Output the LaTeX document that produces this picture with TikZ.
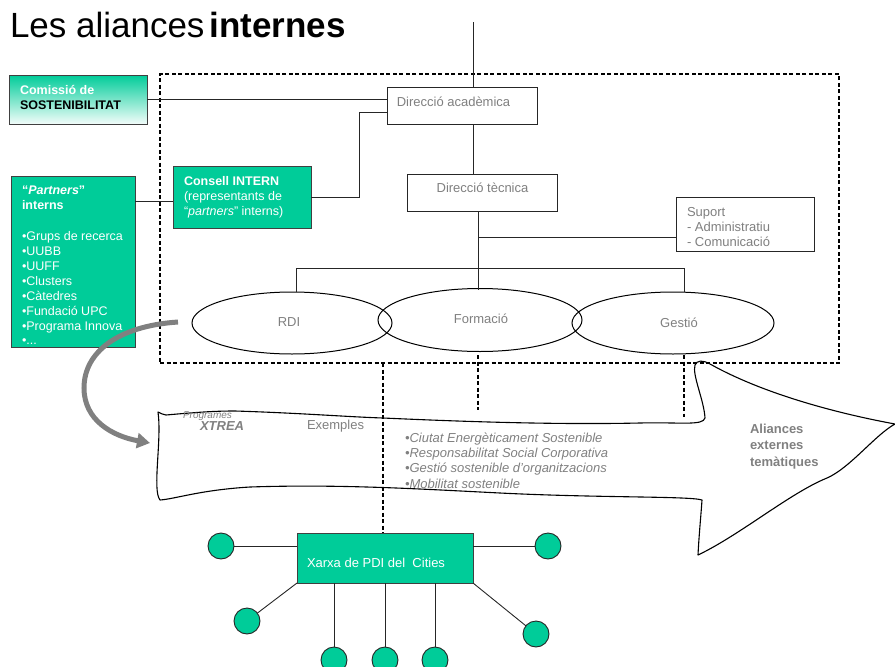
\documentclass[tikz,border=0pt]{standalone}
\usepackage{fontspec}
\setmainfont{Liberation Sans}
\usetikzlibrary{arrows.meta,shapes.geometric}
\definecolor{grn}{RGB}{0,204,153}
\definecolor{txtgray}{RGB}{128,128,128}
\definecolor{arrgray}{RGB}{128,128,128}
\begin{document}
\begin{tikzpicture}[x=1pt,y=-1pt,
  every node/.style={inner sep=0pt, outer sep=0pt},
  plainbox/.style={draw=black!85, line width=0.9pt, fill=white},
  greenbox/.style={draw=black!75, line width=0.9pt, fill=grn},
  conn/.style={draw=black!85, line width=0.9pt},
  dashln/.style={draw=black, line width=1.7pt, dash pattern=on 4pt off 2.5pt},
  oval/.style={ellipse, draw=black, line width=1pt},
  dot/.style={circle, draw=black!85, line width=0.9pt, fill=grn, minimum size=26pt},
  t13/.style={font=\fontsize{13}{15}\selectfont},
  t12/.style={font=\fontsize{12.5}{15}\selectfont},
  gtxt/.style={text=txtgray, t13},
  wtxt/.style={text=white, t12},
  lb/.style={anchor=base west},
  cb/.style={anchor=base},
]
\useasboundingbox (0,0) rectangle (895,667);

% title
\node[lb, font=\fontsize{35}{38}\selectfont] (title) at (10,37) {Les aliances\hskip5pt\textbf{internes}};

% dashed frame
\node[dashln, minimum width=679pt, minimum height=289pt] (frame) at (499.5,218.5) {};

% boxes
\node[draw=black!75, line width=0.9pt, top color=grn, bottom color=grn!5, minimum width=138pt, minimum height=49pt] (comm) at (78,99.5) {};
\node[greenbox, minimum width=124pt, minimum height=171pt] (partners) at (73,261.5) {};
\node[greenbox, minimum width=138pt, minimum height=62pt] (consell) at (242,197) {};
\node[plainbox, minimum width=150pt, minimum height=37pt] (dacad) at (462,105.5) {};
\node[plainbox, minimum width=150pt, minimum height=37pt] (dtec) at (482,192.5) {};
\node[plainbox, minimum width=138pt, minimum height=54pt] (suport) at (745,224) {};

% ellipses
\node[oval, minimum width=200pt, minimum height=62pt] (rdi) at (292,323) {};
\node[oval, minimum width=204pt, minimum height=63pt] (form) at (480,320) {};
\node[oval, minimum width=202pt, minimum height=62pt] (gest) at (673,323) {};

% coordinates
\coordinate (top) at (473,22);
\coordinate (fx) at (478,268);
\coordinate (bl) at (296,268);
\coordinate (br) at (684,268);
\coordinate (d1) at (383,363);
\coordinate (d2a) at (478,355);
\coordinate (d2b) at (478,410);
\coordinate (d3a) at (684,355);
\coordinate (d3b) at (684,417);

% connectors
\draw[conn] (top) -- (top |- dacad.north);
\draw[conn] (comm.east) -- (comm.east -| dacad.west);
\draw[conn] ([yshift=-6.5pt]dacad.west) -- ++(-28,0) |- (consell.east);
\draw[conn] ([yshift=-4pt]consell.west) -- ([yshift=-4pt]consell.west -| partners.east);
\draw[conn] (top |- dacad.south) -- (top |- dtec.north);
\draw[conn] (dtec.south -| fx) -- ([yshift=-1pt]form.north -| fx);
\draw[conn] ([yshift=-13pt]suport.west) -- ([yshift=-13pt]suport.west -| fx);
\draw[conn] (rdi.north -| bl) -- (bl) -- (br) -- (gest.north -| br);

% texts in boxes
\node[lb, font=\bfseries\fontsize{12.5}{15}\selectfont, text=white] (commA) at (20,94) {Comissió de};
\node[lb, font=\bfseries\fontsize{12.5}{15}\selectfont] (commB) at (20,109) {SOSTENIBILITAT};

\node[lb, wtxt, font=\bfseries\fontsize{12.5}{15}\selectfont] (pA) at (22,194) {“\textit{Partners}”};
\node[lb, wtxt, font=\bfseries\fontsize{12.5}{15}\selectfont] (pB) at (22,209) {interns};
\node[lb, wtxt] (p1) at (22,240) {•Grups de recerca};
\node[lb, wtxt] (p2) at (22,255) {•UUBB};
\node[lb, wtxt] (p3) at (22,270) {•UUFF};
\node[lb, wtxt] (p4) at (22,285) {•Clusters};
\node[lb, wtxt] (p5) at (22,300) {•Càtedres};
\node[lb, wtxt] (p6) at (22,315) {•Fundació UPC};
\node[lb, wtxt] (p7) at (22,330) {•Programa Innova};
\node[lb, wtxt] (p8) at (22,344) {•...};

\node[lb, wtxt, font=\bfseries\fontsize{12.5}{15}\selectfont] (cA) at (184,185) {Consell INTERN};
\node[lb, wtxt] (cB) at (184,200) {(representants de};
\node[lb, wtxt] (cC) at (184,215) {“\textit{partners}” interns)};

\node[cb, gtxt] (tdacad) at (453.5,106) {Direcció acadèmica};
\node[cb, gtxt] (tdtec) at (482.5,192) {Direcció tècnica};
\node[lb, gtxt] (s1) at (687,216) {Suport};
\node[lb, gtxt] (s2) at (687,231) {- Administratiu};
\node[lb, gtxt] (s3) at (687,246) {- Comunicació};

\node[cb, gtxt] (trdi) at (289,326) {RDI};
\node[cb, gtxt] (tform) at (481,323) {Formació};
\node[cb, gtxt] (tgest) at (679,327) {Gestió};

% big arrow
\draw[line width=1.1pt, line join=round]
  (158,412) .. controls (161,413) and (163,415) .. (166,415)
  .. controls (200,412) and (215,411) .. (235,411)
  .. controls (300,413) and (350,417) .. (383,418)
  .. controls (450,421) and (550,425) .. (640,423)
  .. controls (680,422) and (703,426) .. (705,418)
  .. controls (704,400) and (692,375) .. (695,365)
  .. controls (697,360) and (703,360) .. (710,364)
  .. controls (760,392) and (830,412) .. (895,424)
  .. controls (875,435) and (850,468) .. (827,478)
  .. controls (790,493) and (740,535) .. (698,555)
  .. controls (699,535) and (701,515) .. (702,500)
  .. controls (690,496) and (600,498) .. (500,493)
  .. controls (420,489) and (340,484) .. (250,487)
  .. controls (200,490) and (175,499) .. (160,500)
  .. controls (152,490) and (162,440) .. (158,412) -- cycle;

% dashed verticals
\draw[dashln] (d1) -- (d1 |- frame.south) -- (d1 |- 0,533);
\draw[dashln] (d2a) -- (d2b);
\draw[dashln] (d3a) -- (d3b);

% arrow texts
\node[lb, text=txtgray, font=\itshape\fontsize{10}{12}\selectfont] (prog) at (183,418) {Programes};
\node[lb, text=txtgray, font=\bfseries\itshape\fontsize{13}{15}\selectfont] (xtrea) at (200,430) {XTREA};
\node[lb, gtxt] (exem) at (307,429) {Exemples};
\node[lb, gtxt, font=\itshape\fontsize{13}{15}\selectfont] (e1) at (405,442) {•Ciutat Energèticament Sostenible};
\node[lb, gtxt, font=\itshape\fontsize{13}{15}\selectfont] (e2) at (405,457) {•Responsabilitat Social Corporativa};
\node[lb, gtxt, font=\itshape\fontsize{13}{15}\selectfont] (e3) at (405,472) {•Gestió sostenible d’organitzacions};
\node[lb, gtxt, font=\itshape\fontsize{13}{15}\selectfont] (e4) at (405,488) {•Mobilitat sostenible};
\node[lb, gtxt, font=\bfseries\fontsize{13}{15}\selectfont] (al1) at (750,433) {Aliances};
\node[lb, gtxt, font=\bfseries\fontsize{13}{15}\selectfont] (al2) at (750,449) {externes};
\node[lb, gtxt, font=\bfseries\fontsize{13}{15}\selectfont] (al3) at (750,466) {temàtiques};

% gray curved arrow
\coordinate (ga) at (178,322);
\coordinate (gb) at (150,443);
\draw[draw=arrgray, line width=5pt, -{Triangle[length=13pt,width=15pt]}]
  (ga) .. controls (118,326) and (84,352) .. (84,388) .. controls (84,420) and (112,436) .. (gb);

% network
\node[greenbox, minimum width=176pt, minimum height=50pt] (xarxa) at (385,558) {};
\node[lb, wtxt, font=\fontsize{13}{15}\selectfont] (txarxa) at (307,567) {Xarxa de PDI del\ \ Cities};
\node[dot] (c1) at (221,546) {};
\node[dot] (c2) at (548,546) {};
\node[dot] (c3) at (247,621) {};
\node[dot] (c4) at (536,634) {};
\node[dot] (c5) at (334,660) {};
\node[dot] (c6) at (385,660) {};
\node[dot] (c7) at (435,660) {};
\draw[conn] (c1.east) -- (c1.east -| xarxa.west);
\draw[conn] (c2.west) -- (c2.west -| xarxa.east);
\draw[conn] (xarxa.south west) -- (c3);
\draw[conn] (xarxa.south east) -- (c4);
\draw[conn] (c5.north |- xarxa.south) -- (c5.north);
\draw[conn] (c6.north |- xarxa.south) -- (c6.north);
\draw[conn] (c7.north |- xarxa.south) -- (c7.north);
\end{tikzpicture}
\end{document}
